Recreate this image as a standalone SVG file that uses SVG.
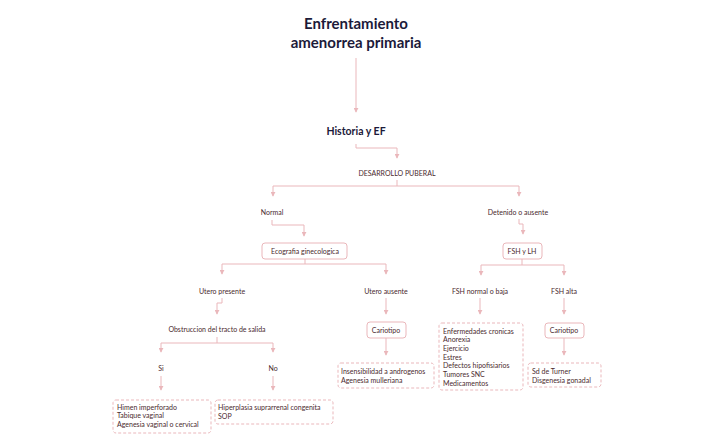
<svg xmlns="http://www.w3.org/2000/svg" width="713" height="441" viewBox="0 0 713 441">
<style>
.t{font-family:Lato,"Noto Sans",sans-serif;font-size:7px;fill:#4a2a2e}
.c{text-anchor:middle}
.h{font-family:Lato,"Noto Sans",sans-serif;font-weight:bold;fill:#1c1a3a;text-anchor:middle}
.l{fill:none;stroke:#eab7bb;stroke-width:1}
.b{fill:#fff;stroke:#eab7bb;stroke-width:1}
.d{fill:#fff;stroke:#eab7bb;stroke-width:1;stroke-dasharray:3 2}
</style>
<defs><marker id="a" viewBox="0 0 6 6" refX="5" refY="3" markerWidth="5" markerHeight="5" orient="auto"><path d="M0,0L6,3L0,6z" fill="#eab7bb"/></marker></defs>
<rect width="713" height="441" fill="#fff"/>
<g id="connectors" class="l" marker-end="url(#a)">
<path d="M356,58V112"/>
<path d="M356,144V148H397V158"/>
<path d="M397,180V186H273V196"/><path d="M397,186H519V196"/>
<path d="M272,220V225H304V236"/>
<path d="M305,259V264H222V274"/><path d="M305,264H386V274"/>
<path d="M222,298V303H217V314"/>
<path d="M217,337V343H161V352"/><path d="M217,343H273V352"/>
<path d="M161,376V390"/><path d="M273,376V390"/>
<path d="M386,298V314"/><path d="M386,338V355"/>
<path d="M519,219V224H523V234"/>
<path d="M522,259V265H481V275"/><path d="M522,265H564V275"/>
<path d="M480,298V314"/><path d="M564,298V314"/><path d="M564,338V355"/>
</g>
<g id="title"><text class="h" font-size="15" x="356" y="29">Enfrentamiento</text><text class="h" font-size="15" x="356" y="48">amenorrea primaria</text></g>
<g id="historia"><text class="h" font-size="10.5" x="356" y="135">Historia y EF</text></g>
<g id="desarrollo"><text class="t c" x="397" y="176">DESARROLLO PUBERAL</text></g>
<g id="normal"><text class="t c" x="272" y="215">Normal</text></g>
<g id="detenido"><text class="t c" x="518" y="215">Detenido o ausente</text></g>
<g id="eco"><rect class="b" x="262" y="243" width="85" height="16" rx="3"/><text class="t c" x="305" y="254">Ecografia ginecologica</text></g>
<g id="fshlh"><rect class="b" x="503" y="243" width="39" height="16" rx="3"/><text class="t c" x="522" y="254">FSH y LH</text></g>
<g id="upresente"><text class="t c" x="222" y="294">Utero presente</text></g>
<g id="uausente"><text class="t c" x="386" y="294">Utero ausente</text></g>
<g id="fshnormal"><text class="t c" x="480" y="294">FSH normal o baja</text></g>
<g id="fshalta"><text class="t c" x="564" y="294">FSH alta</text></g>
<g id="obstruccion"><text class="t c" x="217" y="332">Obstruccion del tracto de salida</text></g>
<g id="cario1"><rect class="b" x="367" y="322" width="39" height="16" rx="3"/><text class="t c" x="386" y="333">Cariotipo</text></g>
<g id="cario2"><rect class="b" x="545" y="323" width="39" height="15" rx="3"/><text class="t c" x="564" y="333">Cariotipo</text></g>
<g id="si"><text class="t c" x="161" y="371">Si</text></g>
<g id="no"><text class="t c" x="273" y="371">No</text></g>
<g id="causas"><rect class="d" x="439" y="323" width="84" height="67" rx="3"/>
<text class="t" x="443" y="333.5">Enfermedades cronicas</text><text class="t" x="443" y="342.2">Anorexia</text><text class="t" x="443" y="350.9">Ejercicio</text><text class="t" x="443" y="359.6">Estres</text><text class="t" x="443" y="368.3">Defectos hipofisiarios</text><text class="t" x="443" y="377">Tumores SNC</text><text class="t" x="443" y="385.7">Medicamentos</text></g>
<g id="insens"><rect class="d" x="338" y="363" width="96" height="25" rx="3"/><text class="t" x="341" y="373.5">Insensibilidad a androgenos</text><text class="t" x="341" y="382.5">Agenesia mulleriana</text></g>
<g id="turner"><rect class="d" x="528" y="363" width="73" height="24" rx="3"/><text class="t" x="532" y="373.5">Sd de Turner</text><text class="t" x="532" y="382.5">Disgenesia gonadal</text></g>
<g id="himen"><rect class="d" x="113" y="400" width="98" height="33" rx="3"/><text class="t" x="117" y="409.5">Himen imperforado</text><text class="t" x="117" y="418.2">Tabique vaginal</text><text class="t" x="117" y="426.9">Agenesia vaginal o cervical</text></g>
<g id="hiper"><rect class="d" x="215" y="400" width="118" height="24" rx="3"/><text class="t" x="218" y="409.5">Hiperplasia suprarrenal congenita</text><text class="t" x="218" y="418.5">SOP</text></g>
</svg>
